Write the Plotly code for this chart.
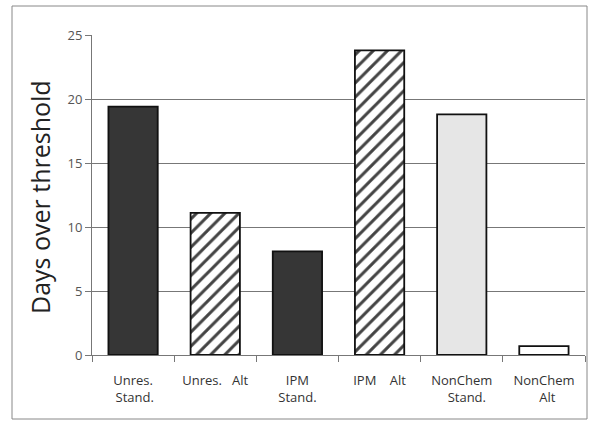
import plotly.graph_objects as go

categories = ["Unres.<br>\u00a0Stand.", "Unres.\u00a0\u00a0\u00a0Alt", "IPM<br>Stand.",
              "IPM\u00a0\u00a0\u00a0\u00a0Alt", "NonChem<br>\u00a0\u00a0\u00a0Stand.", "NonChem<br>\u00a0\u00a0Alt"]
values = [19.4, 11.1, 8.1, 23.8, 18.8, 0.7]
fill_colors = ["#363636", "#ffffff", "#363636", "#ffffff", "#e6e6e6", "#ffffff"]
patterns = ["", "/", "", "/", "", ""]
y_ticks = [0, 5, 10, 15, 20, 25]

W, H = 589, 424
L, R, T, B = 92, 4, 35, 69
pw = W - L - R
ph = H - T - B

fig = go.Figure()
fig.add_trace(go.Bar(
    x=categories, y=values, width=0.6,
    marker=dict(color=fill_colors,
                line=dict(color="#111111", width=1.8),
                pattern=dict(shape=patterns, fgcolor="#111111", bgcolor="#ffffff",
                             fgopacity=1, size=10, solidity=0.3, fillmode="overlay")),
    showlegend=False,
))

fig.update_layout(
    width=W, height=H,
    margin=dict(l=L, r=R, t=T, b=B),
    paper_bgcolor="white", plot_bgcolor="white",
    font=dict(family="Open Sans, sans-serif", color="#444444"),
    xaxis=dict(showgrid=False, showline=True, linecolor="#777777", linewidth=1,
               ticks="outside", tickson="boundaries", ticklen=6, tickcolor="#777777",
               tickfont=dict(size=13, color="#333333"), ticklabelstandoff=13),
    yaxis=dict(range=[0, 25], tickvals=y_ticks, showgrid=True, gridcolor="#777777",
               gridwidth=1, showline=True, linecolor="#777777", linewidth=1,
               ticks="outside", ticklen=6, tickcolor="#777777",
               tickfont=dict(size=13, color="#555555"), zeroline=False),
)

fig.add_annotation(text="Days over threshold", xref="paper", yref="paper",
                   x=(40 - L) / pw, y=(H - B - 197) / ph, textangle=-90,
                   showarrow=False, font=dict(size=25, color="#222222"),
                   xanchor="center", yanchor="middle")

# outer frame around the chart area
fig.add_shape(type="rect", xref="paper", yref="paper",
              x0=(12 - L) / pw, x1=(587 - L) / pw,
              y0=(H - B - 419) / ph, y1=(H - B - 6) / ph,
              line=dict(color="#888888", width=1), fillcolor="rgba(0,0,0,0)", layer="above")

fig.write_html("out.html", config={"displayModeBar": False},
               post_script="document.body.style.margin='0';document.body.style.overflow='hidden';")
